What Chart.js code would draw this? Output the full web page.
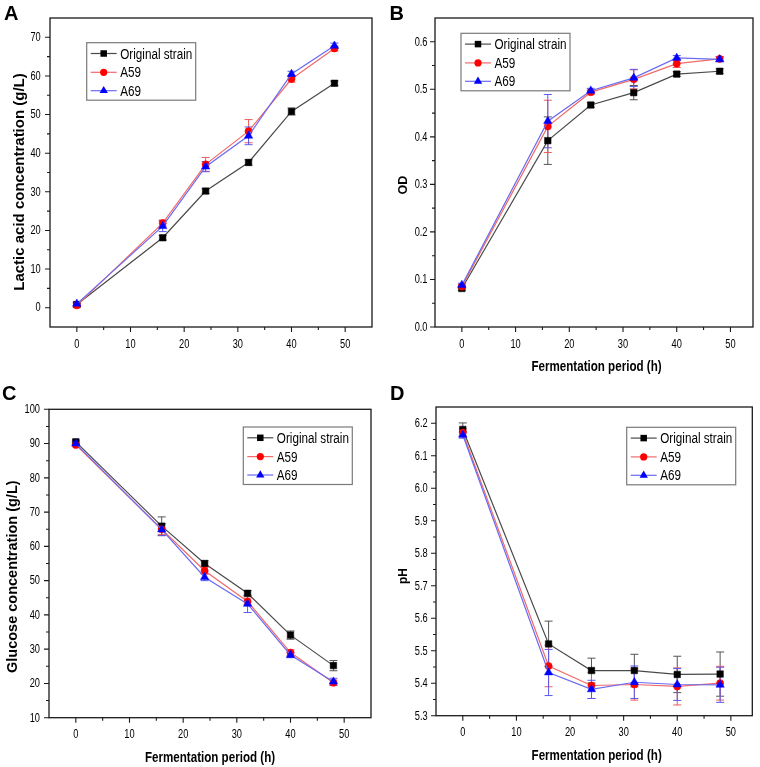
<!DOCTYPE html>
<html>
<head>
<meta charset="utf-8">
<script src="https://cdn.jsdelivr.net/npm/chart.js@4/dist/chart.umd.min.js"></script>
<style>
html,body{margin:0;padding:0;background:#fff;}
#wrap{position:relative;width:760px;height:767px;overflow:hidden;}
canvas.panel{position:absolute;}
.letter{position:absolute;font-family:"Liberation Sans",Arial,sans-serif;font-weight:bold;font-size:20px;line-height:1;color:#000;}
</style>
</head>
<body>
<div id="wrap">
  <canvas id="cA" class="panel" width="380" height="380" style="left:0;top:0;width:380px;height:380px"></canvas>
  <canvas id="cB" class="panel" width="380" height="380" style="left:380px;top:0;width:380px;height:380px"></canvas>
  <canvas id="cC" class="panel" width="380" height="387" style="left:0;top:380px;width:380px;height:387px"></canvas>
  <canvas id="cD" class="panel" width="380" height="387" style="left:380px;top:380px;width:380px;height:387px"></canvas>
  <div class="letter" style="left:4px;top:2.5px">A</div>
  <div class="letter" style="left:389.5px;top:2.5px">B</div>
  <div class="letter" style="left:2px;top:382.5px">C</div>
  <div class="letter" style="left:390px;top:382.5px">D</div>
</div>
<script>
// ---------- data ----------
const hours = [0, 16, 24, 32, 40, 48];
const seriesNames = ['Original strain', 'A59', 'A69'];
const hourTicks = [0, 10, 20, 30, 40, 50];
const xAxisTitle = 'Fermentation period (h)';

const lacticOriginal = [0.8, 18.1, 30.2, 37.6, 50.8, 58.1];
const lacticA59      = [0.6, 21.9, 37.1, 45.7, 59.2, 67.1];
const lacticA69      = [1.0, 21.1, 36.5, 44.5, 60.5, 67.8];
const lacticErrOriginal = [0.5, 0.6, 0.6, 0.7, 0.9, 0.6];
const lacticErrA59      = [0.5, 0.8, 1.8, 3.0, 0.8, 0.6];
const lacticErrA69      = [0.5, 1.4, 1.3, 2.3, 0.7, 0.7];
const lacticTicks = [0, 10, 20, 30, 40, 50, 60, 70];

const odOriginal = [0.081, 0.392, 0.467, 0.493, 0.532, 0.538];
const odA59      = [0.085, 0.422, 0.494, 0.521, 0.554, 0.564];
const odA69      = [0.088, 0.433, 0.497, 0.524, 0.566, 0.563];
const odErrOriginal = [0.004, 0.050, 0.005, 0.015, 0.005, 0.005];
const odErrA59      = [0.004, 0.055, 0.005, 0.020, 0.008, 0.005];
const odErrA69      = [0.004, 0.056, 0.005, 0.018, 0.005, 0.005];
const odTicks = [0.0, 0.1, 0.2, 0.3, 0.4, 0.5, 0.6];

const glucoseOriginal = [90.5, 65.9, 55.0, 46.3, 34.1, 25.2];
const glucoseA59      = [89.6, 65.0, 52.9, 43.9, 29.0, 20.2];
const glucoseA69      = [90.0, 64.9, 51.0, 43.2, 28.3, 20.5];
const glucoseErrOriginal = [0.5, 2.7, 0.8, 0.8, 1.2, 1.5];
const glucoseErrA59      = [0.5, 1.5, 1.0, 1.0, 0.8, 0.8];
const glucoseErrA69      = [0.5, 1.8, 1.0, 2.5, 0.8, 1.0];
const glucoseTicks = [10, 20, 30, 40, 50, 60, 70, 80, 90, 100];

const phOriginal = [6.181, 5.521, 5.439, 5.439, 5.427, 5.428];
const phA59      = [6.171, 5.453, 5.393, 5.396, 5.390, 5.400];
const phA69      = [6.164, 5.433, 5.381, 5.403, 5.396, 5.395];
const phErrOriginal = [0.020, 0.070, 0.038, 0.050, 0.056, 0.068];
const phErrA59      = [0.012, 0.064, 0.040, 0.048, 0.057, 0.052];
const phErrA69      = [0.010, 0.071, 0.028, 0.050, 0.049, 0.054];
const phTicks = [5.3, 5.4, 5.5, 5.6, 5.7, 5.8, 5.9, 6.0, 6.1, 6.2];

// ---------- styles ----------
const lineColors   = ['#4a4a4a', '#f26a6a', '#6a6af2'];
const markerColors = ['#000000', '#ff0000', '#0000ff'];
const errColors    = ['#555555', '#ee5a5a', '#5a5aee'];
const pointStyles  = ['rect', 'circle', 'triangle'];
const pointRadii   = [4.6, 3.6, 4.8];
const SANS = '"Liberation Sans",Arial,sans-serif';
const NARROW_X = 0.82;   // horizontal compression to mimic the condensed figure font

function drawMarker(ctx, style, r, x, y) {
  ctx.beginPath();
  if (style === 'rect') {
    const s = Math.SQRT1_2 * r;
    ctx.rect(x - s, y - s, 2 * s, 2 * s);
  } else if (style === 'circle') {
    ctx.arc(x, y, r, 0, Math.PI * 2);
  } else {
    ctx.moveTo(x, y - r);
    ctx.lineTo(x + 0.866 * r, y + 0.5 * r);
    ctx.lineTo(x - 0.866 * r, y + 0.5 * r);
    ctx.closePath();
  }
  ctx.fill();
}

function condText(ctx, text, x, y, font, align, baseline, sx) {
  ctx.save();
  ctx.font = font;
  ctx.textAlign = align;
  ctx.textBaseline = baseline;
  ctx.fillStyle = '#000';
  ctx.translate(x, y);
  ctx.scale(sx, 1);
  ctx.fillText(text, 0, 0);
  ctx.restore();
}

function minorsOf(majors, min, max) {
  const out = [];
  const step = majors[1] - majors[0];
  const cand = [majors[0] - step / 2];
  for (let i = 0; i < majors.length - 1; i++) cand.push((majors[i] + majors[i + 1]) / 2);
  cand.push(majors[majors.length - 1] + step / 2);
  const eps = step * 1e-3;
  cand.forEach(v => { if (v > min + eps && v < max - eps) out.push(v); });
  return out;
}

const decoPlugin = {
  id: 'deco',
  beforeDatasetsDraw(chart) {
    const ctx = chart.ctx, ys = chart.scales.y;
    chart.data.datasets.forEach((ds, i) => {
      const meta = chart.getDatasetMeta(i);
      ctx.save();
      ctx.strokeStyle = errColors[i];
      ctx.lineWidth = 1;
      meta.data.forEach((pt, j) => {
        const v = ds.data[j].y, e = ds.errors[j];
        const yt = ys.getPixelForValue(v + e), yb = ys.getPixelForValue(v - e);
        ctx.beginPath();
        ctx.moveTo(pt.x, yt); ctx.lineTo(pt.x, yb);
        ctx.moveTo(pt.x - 4, yt); ctx.lineTo(pt.x + 4, yt);
        ctx.moveTo(pt.x - 4, yb); ctx.lineTo(pt.x + 4, yb);
        ctx.stroke();
      });
      ctx.restore();
    });
  },
  afterDraw(chart) {
    const o = chart.options.plugins.deco;
    const ctx = chart.ctx, a = chart.chartArea;
    const xs = chart.scales.x, ys = chart.scales.y;
    ctx.save();
    // frame
    ctx.strokeStyle = '#1a1a1a';
    ctx.lineWidth = 1.3;
    ctx.strokeRect(a.left, a.top, a.right - a.left, a.bottom - a.top);
    // ticks (outward): majors long, minors short
    ctx.lineWidth = 1.1;
    ctx.beginPath();
    xs.ticks.forEach(t => { const p = xs.getPixelForValue(t.value); ctx.moveTo(p, a.bottom); ctx.lineTo(p, a.bottom + 5); });
    minorsOf(xs.ticks.map(t => t.value), xs.min, xs.max).forEach(v => { const p = xs.getPixelForValue(v); ctx.moveTo(p, a.bottom); ctx.lineTo(p, a.bottom + 3); });
    ys.ticks.forEach(t => { const p = ys.getPixelForValue(t.value); ctx.moveTo(a.left, p); ctx.lineTo(a.left - 5, p); });
    minorsOf(ys.ticks.map(t => t.value), ys.min, ys.max).forEach(v => { const p = ys.getPixelForValue(v); ctx.moveTo(a.left, p); ctx.lineTo(a.left - 3, p); });
    ctx.stroke();
    // tick labels
    const tickFont = '12.5px ' + SANS;
    xs.ticks.forEach(t => {
      condText(ctx, String(t.value), xs.getPixelForValue(t.value), a.bottom + 20.6, tickFont, 'center', 'alphabetic', 0.74);
    });
    ys.ticks.forEach(t => {
      condText(ctx, Number(t.value).toFixed(o.decimals), a.left - o.yLabelGap, ys.getPixelForValue(t.value) + 3.8, tickFont, 'right', 'alphabetic', 0.74);
    });
    // x title
    if (o.xTitle) {
      condText(ctx, o.xTitle.text, (a.left + a.right) / 2 + o.xTitle.dx, o.xTitle.y, 'bold 14.5px ' + SANS, 'center', 'middle', 0.8);
    }
    // y title
    ctx.save();
    ctx.translate(o.yTitle.x, o.yTitle.y);
    ctx.rotate(-Math.PI / 2);
    ctx.font = 'bold ' + o.yTitle.size + 'px ' + SANS;
    ctx.fillStyle = '#000';
    ctx.textAlign = 'center';
    ctx.textBaseline = 'middle';
    ctx.fillText(o.yTitle.text, 0, 0);
    ctx.restore();
    // legend
    const lx = a.left + o.legend.dx, ly = a.top + o.legend.dy;
    const bw = 109, bh = 57.5, rows = [10.8, 29.6, 48.0];
    ctx.fillStyle = '#fff';
    ctx.fillRect(lx, ly, bw, bh);
    ctx.strokeStyle = '#7a7a7a';
    ctx.lineWidth = 1.2;
    ctx.strokeRect(lx, ly, bw, bh);
    chart.data.datasets.forEach((ds, i) => {
      const ry = ly + rows[i];
      ctx.strokeStyle = lineColors[i];
      ctx.lineWidth = 1.2;
      ctx.beginPath(); ctx.moveTo(lx + 4, ry); ctx.lineTo(lx + 30, ry); ctx.stroke();
      ctx.fillStyle = markerColors[i];
      drawMarker(ctx, pointStyles[i], pointRadii[i], lx + 17, ry);
      condText(ctx, ds.label, lx + 33.5, ry + 5, '14px ' + SANS, 'left', 'alphabetic', 0.835);
    });
    ctx.restore();
  }
};

function makePanel(p) {
  const datasets = p.series.map((vals, i) => ({
    label: seriesNames[i],
    data: hours.map((h, j) => ({ x: h, y: vals[j] })),
    errors: p.errors[i],
    borderColor: lineColors[i],
    backgroundColor: markerColors[i],
    pointBackgroundColor: markerColors[i],
    pointBorderColor: markerColors[i],
    pointBorderWidth: 0.5,
    pointStyle: pointStyles[i],
    pointRadius: pointRadii[i],
    borderWidth: 1.2,
    tension: 0,
    fill: false,
    order: 2 - i
  }));
  new Chart(document.getElementById(p.canvas), {
    type: 'line',
    data: { datasets },
    options: {
      responsive: false,
      animation: false,
      devicePixelRatio: 1,
      layout: { padding: { top: p.pad.top, right: p.pad.right, left: 0, bottom: 0 } },
      plugins: {
        legend: { display: false },
        tooltip: { enabled: false },
        deco: { yTitle: p.yTitle, xTitle: p.xTitle, legend: p.legend, decimals: p.decimals, yLabelGap: p.yLabelGap }
      },
      scales: {
        x: {
          type: 'linear', min: p.xMin, max: p.xMax,
          afterBuildTicks: s => { s.ticks = p.xMajor.map(v => ({ value: v })); },
          afterFit: s => { s.height = p.xAxisH; },
          grid: { display: false },
          border: { display: false },
          ticks: { display: false }
        },
        y: {
          type: 'linear', min: p.yMin, max: p.yMax,
          afterBuildTicks: s => { s.ticks = p.yMajor.map(v => ({ value: v })); },
          afterFit: s => { s.width = p.yAxisW; },
          grid: { display: false },
          border: { display: false },
          ticks: { display: false }
        }
      }
    },
    plugins: [decoPlugin]
  });
}

makePanel({
  canvas: 'cA',
  series: [lacticOriginal, lacticA59, lacticA69],
  errors: [lacticErrOriginal, lacticErrA59, lacticErrA69],
  xMin: -5, xMax: 55, yMin: -5, yMax: 75,
  xMajor: hourTicks, yMajor: lacticTicks, decimals: 0, yLabelGap: 9.3,
  yAxisW: 50, xAxisH: 53, pad: { top: 18, right: 8 },
  xTitle: null,
  yTitle: { text: 'Lactic acid concentration (g/L)', x: 20.3, y: 182, size: 15 },
  legend: { dx: 36.7, dy: 24.7 }
});
makePanel({
  canvas: 'cB',
  series: [odOriginal, odA59, odA69],
  errors: [odErrOriginal, odErrA59, odErrA69],
  xMin: -5, xMax: 54.2, yMin: 0, yMax: 0.65,
  xMajor: hourTicks, yMajor: odTicks, decimals: 1, yLabelGap: 7.5,
  yAxisW: 55, xAxisH: 53, pad: { top: 18, right: 7 },
  xTitle: { text: xAxisTitle, dx: 2.5, y: 366.7 },
  yTitle: { text: 'OD', x: 23.3, y: 185, size: 12.5 },
  legend: { dx: 26, dy: 15.3 }
});
makePanel({
  canvas: 'cC',
  series: [glucoseOriginal, glucoseA59, glucoseA69],
  errors: [glucoseErrOriginal, glucoseErrA59, glucoseErrA69],
  xMin: -5, xMax: 55, yMin: 10, yMax: 100,
  xMajor: hourTicks, yMajor: glucoseTicks, decimals: 0, yLabelGap: 9,
  yAxisW: 49, xAxisH: 49.3, pad: { top: 29.3, right: 9 },
  xTitle: { text: xAxisTitle, dx: 0, y: 377.7 },
  yTitle: { text: 'Glucose concentration (g/L)', x: 13.3, y: 196.7, size: 14.5 },
  legend: { dx: 194.3, dy: 17.7 }
});
makePanel({
  canvas: 'cD',
  series: [phOriginal, phA59, phA69],
  errors: [phErrOriginal, phErrA59, phErrA69],
  xMin: -5, xMax: 54, yMin: 5.3, yMax: 6.25,
  xMajor: hourTicks, yMajor: phTicks, decimals: 1, yLabelGap: 8.3,
  yAxisW: 56, xAxisH: 51.3, pad: { top: 27, right: 7.7 },
  xTitle: { text: xAxisTitle, dx: 2.5, y: 376 },
  yTitle: { text: 'pH', x: 23.3, y: 196, size: 12 },
  legend: { dx: 190.7, dy: 20.3 }
});
</script>
</body>
</html>
